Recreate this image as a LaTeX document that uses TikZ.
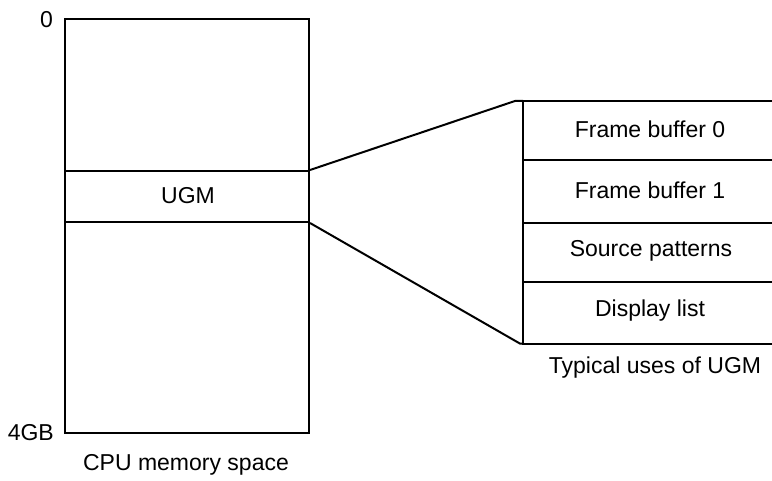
\documentclass[tikz,border=0pt]{standalone}
\usepackage{fontspec}
\setmainfont{Liberation Sans}
\begin{document}
\begin{tikzpicture}[x=1pt,y=-1pt,
  ln/.style={line width=2pt},
  lbl/.style={font=\fontsize{23}{26}\selectfont, inner sep=0pt},
  cell/.style={rectangle, minimum width=270pt, inner sep=0pt},
  band/.style={ln, draw, rectangle, minimum width=244pt, inner sep=0pt}]
\useasboundingbox (0,0) rectangle (772,481);
% CPU memory space
\node[band, minimum height=414pt] (mem) at (187,226) {};
\node[band, minimum height=51pt] (ugm) at (187,196.5) {};
\node[lbl] (ugmt) at (188,195.5) {UGM};
\node[lbl, anchor=east] (zero) at (53,19.5) {0};
\node[lbl, anchor=east] (fourgb) at (54,433) {4GB};
\node[lbl] (cpu) at (186,465) {CPU memory space};
% UGM uses
\node[cell, anchor=north west, minimum height=59pt] (fb0) at (523,101) {};
\node[cell, anchor=north west, minimum height=62pt] (fb1) at (fb0.south west) {};
\node[cell, anchor=north west, minimum height=59pt] (src) at (fb1.south west) {};
\node[cell, anchor=north west, minimum height=61pt] (disp) at (src.south west) {};
\draw[ln] (fb0.north east) -- (fb0.north west) -- (disp.south west) -- (disp.south east);
\draw[ln] (fb0.south west) -- (fb0.south east);
\draw[ln] (fb1.south west) -- (fb1.south east);
\draw[ln] (src.south west) -- (src.south east);
\node[lbl] (fb0t) at (650,129.5) {Frame buffer 0};
\node[lbl] (fb1t) at (650,190.5) {Frame buffer 1};
\node[lbl] (srct) at (651,251) {Source patterns};
\node[lbl] (dispt) at (650,310.5) {Display list};
\node[lbl] (typ) at (655,367.5) {Typical uses of UGM};
% connectors
\coordinate (ctop) at ([xshift=-8pt]fb0.north west);
\coordinate (cbot) at ([xshift=-3pt]disp.south west);
\draw[ln] (ugm.north east) -- (ctop) -- (fb0.north west);
\draw[ln] (ugm.south east) -- (cbot) -- (disp.south west);
\end{tikzpicture}
\end{document}
